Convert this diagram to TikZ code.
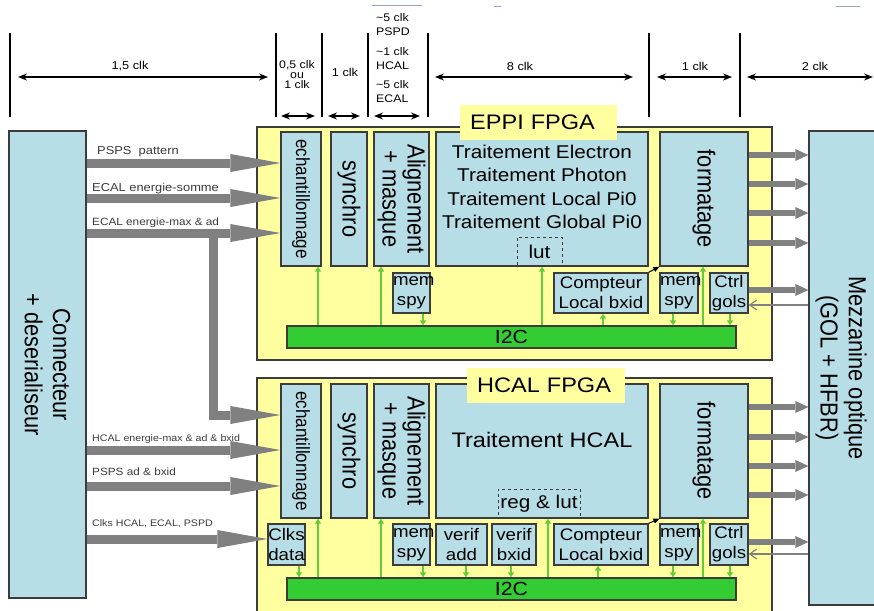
\documentclass[tikz,border=0pt]{standalone}
\usepackage{fontspec}
\setmainfont{Liberation Sans}[FakeStretch=1.12]
\newfontfamily\vfont{Liberation Sans}
\usetikzlibrary{arrows.meta}

\definecolor{lblue}{RGB}{183,221,230}
\definecolor{lyel}{RGB}{255,255,160}
\definecolor{busgreen}{RGB}{51,204,51}
\definecolor{ctlgreen}{RGB}{100,204,60}
\definecolor{arrgray}{RGB}{128,128,128}
\definecolor{bord}{RGB}{60,60,60}
\definecolor{faint}{RGB}{150,160,200}

\tikzset{
  blk/.style={draw=bord, fill=lblue, line width=1.3pt, inner sep=0pt},
  fpga/.style={draw=bord, fill=lyel, line width=1.3pt},
  title/.style={fill=lyel, inner sep=0pt, inner xsep=10pt, anchor=west, align=left,
    minimum height=35pt, font=\fontsize{21}{24}\selectfont},
  vtxt/.style={rotate=-90, yscale=1.13, align=center, inner sep=0pt,
    font=\vfont\fontsize{21.8}{25}\selectfont},
  boxtxt/.style={align=center, font=\fontsize{16.7}{20}\selectfont},
  lutbox/.style={draw=bord, dashed, line width=1pt, inner sep=0pt,
    font=\fontsize{18.5}{22}\selectfont},
  bus/.style={draw=bord, fill=busgreen, line width=1.3pt, inner sep=0pt,
    font=\fontsize{19}{22}\selectfont},
  ctl/.style={draw=ctlgreen, line width=1.3pt, -{Triangle[length=5pt,width=6pt]}},
  inarr/.style={draw=arrgray, line width=9pt,
    -{Triangle[length=50pt,width=18pt,line width=0pt]}},
  outarr/.style={draw=arrgray, line width=6pt,
    -{Triangle[length=13pt,width=12pt,line width=0pt]}},
  retarr/.style={draw=arrgray, line width=1.2pt, -{Straight Barb[length=7pt,width=10pt]}},
  cntarr/.style={line width=1pt, -{Triangle[length=6pt,width=5pt]}},
  dimarr/.style={line width=1.3pt, {Stealth[length=9pt,width=7pt]}-{Stealth[length=9pt,width=7pt]}},
  dimlab/.style={inner sep=0pt, font=\fontsize{11.4}{13}\selectfont},
  sig/.style={anchor=west, inner sep=0pt, text=bord}
}

\begin{document}
\begin{tikzpicture}[x=1pt,y=-1pt]
  \useasboundingbox[fill=white] (0,0) rectangle (874,610);
  \clip (0,0) rectangle (874,610);

  % echelle des temps
  \draw[faint, line width=1pt] (372,6) -- (422,6) (494,7) -- (501,7) (836,7) -- (860,7);
  \foreach \x in {10,276,322,368,428,649,740}
    \draw[line width=1.3pt] (\x,33) -- (\x,117);
  \draw[dimarr] (18,77) -- (268,77);
  \draw[dimarr] (435,77) -- (633,77);
  \draw[dimarr] (657,77) -- (732,77);
  \draw[dimarr] (747,77) -- (873,77);
  \draw[dimarr] (281,116) -- (315,116);
  \draw[dimarr] (328,116) -- (360,116);
  \draw[dimarr] (374,116) -- (420,116);
  \node[dimlab] (t1) at (130,66) {1,5 clk};
  \node[dimlab, align=center, font=\fontsize{11}{10}\selectfont] (t2) at (297,75) {0,5 clk\\ou\\1 clk};
  \node[dimlab] (t3) at (345,72) {1 clk};
  \node[dimlab, anchor=west, align=left, font=\fontsize{11}{14}\selectfont] (t4) at (376,58)
    {\textasciitilde5 clk\\PSPD\\[6pt]\textasciitilde1 clk\\HCAL\\[5pt]\textasciitilde5 clk\\ECAL};
  \node[dimlab] (t5) at (520,66) {8 clk};
  \node[dimlab] (t6) at (695,66) {1 clk};
  \node[dimlab] (t7) at (815,66) {2 clk};

  % connecteur et mezzanine
  \node[blk, minimum width=77pt, minimum height=467pt] (conn) at (47.5,364.5) {};
  \node[vtxt] (connt) at (conn) {Connecteur\\+ deserialiseur};
  \node[blk, minimum width=71pt, minimum height=474pt] (mez) at (844.5,368) {};
  \node[vtxt] (mezt) at (841,368) {Mezzanine optique\\(GOL + HFBR)};

  % EPPI FPGA
  \node[fpga, minimum width=515pt, minimum height=233pt] (fpga1) at (514.5,243.5) {};
  \node[blk, minimum width=40pt, minimum height=134pt] (ech1) at (301,199) {};
  \node[vtxt, font=\vfont\fontsize{17}{20}\selectfont] (ech1t) at (ech1) {echantillonnage};
  \node[blk, minimum width=36pt, minimum height=134pt] (syn1) at (349,199) {};
  \node[vtxt] (syn1t) at (syn1) {synchro};
  \node[blk, minimum width=55pt, minimum height=134pt] (ali1) at (401.5,199) {};
  \node[vtxt, font=\vfont\fontsize{21.8}{22}\selectfont] (ali1t) at (ali1) {Alignement\\+ masque};
  \node[blk, minimum width=212pt, minimum height=134pt] (trt1) at (542,199) {};
  \node[align=center, font=\fontsize{18.5}{23.3}\selectfont] (trt1t) at (542,187)
    {Traitement Electron\\Traitement Photon\\Traitement Local Pi0\\Traitement Global Pi0};
  \node[lutbox, minimum width=45pt, minimum height=29pt] (lut1) at (539.5,251.5) {lut};
  \node[blk, minimum width=88pt, minimum height=134pt] (fmt1) at (704,199) {};
  \node[vtxt] (fmt1t) at (fmt1) {formatage};
  \node[blk, boxtxt, text width=37pt, minimum height=40pt] (mem1a) at (411.5,293) {mem\\spy};
  \node[blk, boxtxt, text width=94pt, minimum height=40pt] (cpt1) at (601,293) {Compteur\\Local bxid};
  \node[blk, boxtxt, text width=38pt, minimum height=40pt] (mem1b) at (679,293) {mem\\spy};
  \node[blk, boxtxt, text width=38pt, minimum height=40pt] (ctl1) at (729,293) {Ctrl\\gols};
  \node[bus, minimum width=449pt, minimum height=22pt] (i2c1) at (511.5,337) {I2C};
  \node[title, text width=137pt] (lab1) at (460,122.5) {EPPI FPGA};

  % HCAL FPGA
  \node[fpga, minimum width=515pt, minimum height=237pt] (fpga2) at (514.5,496.5) {};
  \node[blk, minimum width=40pt, minimum height=134pt] (ech2) at (301,451) {};
  \node[vtxt, font=\vfont\fontsize{17}{20}\selectfont] (ech2t) at (ech2) {echantillonnage};
  \node[blk, minimum width=36pt, minimum height=134pt] (syn2) at (349,451) {};
  \node[vtxt] (syn2t) at (syn2) {synchro};
  \node[blk, minimum width=55pt, minimum height=134pt] (ali2) at (401.5,451) {};
  \node[vtxt, font=\vfont\fontsize{21.8}{22}\selectfont] (ali2t) at (ali2) {Alignement\\+ masque};
  \node[blk, minimum width=212pt, minimum height=134pt] (trt2) at (542,451) {};
  \node[font=\fontsize{21}{24}\selectfont] (trt2t) at (542,440) {Traitement HCAL};
  \node[lutbox, minimum width=82pt, minimum height=29pt] (reg2) at (539,503.5) {reg \& lut};
  \node[blk, minimum width=88pt, minimum height=134pt] (fmt2) at (704,451) {};
  \node[vtxt] (fmt2t) at (fmt2) {formatage};
  \node[blk, boxtxt, text width=37pt, minimum height=41pt] (clk2) at (286.5,544.5) {Clks\\data};
  \node[blk, boxtxt, text width=37pt, minimum height=41pt] (mem2a) at (411.5,544.5) {mem\\spy};
  \node[blk, boxtxt, text width=51pt, minimum height=41pt] (vad2) at (461.5,544.5) {verif\\add};
  \node[blk, boxtxt, text width=44pt, minimum height=41pt] (vbx2) at (514,544.5) {verif\\bxid};
  \node[blk, boxtxt, text width=94pt, minimum height=41pt] (cpt2) at (601,544.5) {Compteur\\Local bxid};
  \node[blk, boxtxt, text width=38pt, minimum height=41pt] (mem2b) at (679,544.5) {mem\\spy};
  \node[blk, boxtxt, text width=38pt, minimum height=41pt] (ctl2) at (729,544.5) {Ctrl\\gols};
  \node[bus, minimum width=449pt, minimum height=22pt] (i2c2) at (511.5,589) {I2C};
  \node[title, text width=138pt] (lab2) at (467,385.5) {HCAL FPGA};

  % entrees
  \draw[inarr] (conn.east |- 0,163) -- (ech1.west |- 0,163);
  \draw[inarr] (conn.east |- 0,198) -- (ech1.west |- 0,198);
  \draw[inarr] (conn.east |- 0,233) -- (ech1.west |- 0,233);
  \coordinate (brn) at (213,233);
  \draw[inarr] (brn) -- (brn |- 0,415) -- (ech2.west |- 0,415);
  \draw[inarr] (conn.east |- 0,450) -- (ech2.west |- 0,450);
  \draw[inarr] (conn.east |- 0,486) -- (ech2.west |- 0,486);
  \draw[inarr] (conn.east |- 0,539) -- (clk2.west |- 0,539);
  \node[sig, font=\fontsize{11.5}{13}\selectfont] (s1) at (97,152) {PSPS\ \ pattern};
  \node[sig, font=\fontsize{11.5}{13}\selectfont] (s2) at (92,189) {ECAL energie-somme};
  \node[sig, font=\fontsize{10.5}{13}\selectfont] (s3) at (92,223) {ECAL energie-max \& ad};
  \node[sig, font=\fontsize{9.5}{12}\selectfont] (s4) at (92,439) {HCAL energie-max \& ad \& bxid};
  \node[sig, font=\fontsize{10.5}{13}\selectfont] (s5) at (92,472) {PSPS ad \& bxid};
  \node[sig, font=\fontsize{9.5}{12}\selectfont] (s6) at (92,524) {Clks HCAL, ECAL, PSPD};

  % sorties
  \foreach \y in {155,184,213,243}
    \draw[outarr] (fmt1.east |- 0,\y) -- (mez.west |- 0,\y);
  \draw[outarr] (ctl1.east |- 0,290) -- (mez.west |- 0,290);
  \draw[retarr] (mez.west |- 0,305) -- (ctl1.east |- 0,305);
  \foreach \y in {407,437,466,495}
    \draw[outarr] (fmt2.east |- 0,\y) -- (mez.west |- 0,\y);
  \draw[outarr] (ctl2.east |- 0,542) -- (mez.west |- 0,542);
  \draw[retarr] (mez.west |- 0,554) -- (ctl2.east |- 0,554);

  % bus I2C
  \foreach \x/\b in {318/ech1,381/ali1,542/trt1,603/cpt1,703/fmt1}
    \draw[ctl] (i2c1.north -| \x,0) -- (\b.south -| \x,0);
  \foreach \x/\b in {423/mem1a,673/mem1b,730/ctl1}
    \draw[ctl] (\b.south -| \x,0) -- (i2c1.north -| \x,0);
  \foreach \x/\b in {318/ech2,381/ali2,548/trt2,598/cpt2,703/fmt2}
    \draw[ctl] (i2c2.north -| \x,0) -- (\b.south -| \x,0);
  \foreach \x/\b in {299/clk2,423/mem2a,466/vad2,511/vbx2,673/mem2b,730/ctl2}
    \draw[ctl] (\b.south -| \x,0) -- (i2c2.north -| \x,0);
  \draw[cntarr] (cpt1.north east) -- (fmt1.south west);
  \draw[cntarr] (cpt2.north east) -- (fmt2.south west);
\end{tikzpicture}
\end{document}
